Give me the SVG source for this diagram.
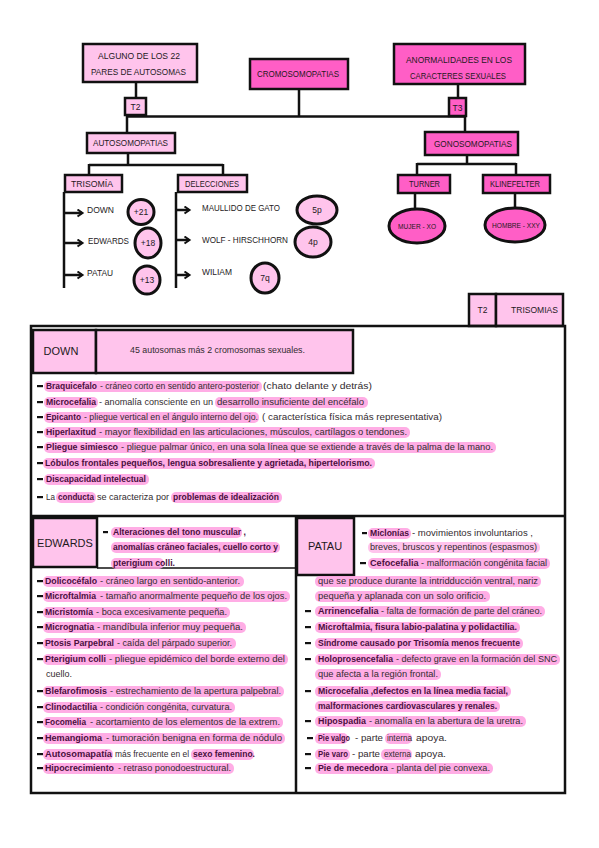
<svg xmlns="http://www.w3.org/2000/svg" width="599" height="848" viewBox="0 0 599 848">
<style>
text{font-family:"Liberation Sans",Arial,sans-serif;}
.lb{font-size:8.5px;fill:#1e1a1c;}
.lbc{font-size:8.5px;fill:#1e1a1c;text-anchor:middle;}
.n{font-size:9px;fill:#332c30;font-weight:normal;}
.b{font-size:9px;fill:#4a0f3e;font-weight:bold;}
.hd{font-size:11px;fill:#1e1a1c;text-anchor:middle;}
.lp{fill:#ffc4ec;stroke:#111;stroke-width:2.5;}
.hp{fill:#ff5ec6;stroke:#111;stroke-width:2.5;}
.ln{stroke:#111;stroke-width:2.5;fill:none;}
.bx{stroke:#111;stroke-width:2.5;fill:none;}
.hl{fill:#ff9fe1;opacity:0.85;}
.hl2{fill:#ffb8ea;opacity:0.85;}
.d{fill:#111;}
</style>
<defs>
<marker id="ar" markerWidth="9" markerHeight="9" refX="6" refY="4.5" orient="auto" markerUnits="userSpaceOnUse">
<path d="M1.5,1 L6.5,4.5 L1.5,8" fill="none" stroke="#111" stroke-width="2"/>
</marker>
</defs>

<g id="connectors">
<path class="ln" d="M136,82 V98"/>
<path class="ln" d="M458,84 V98"/>
<path class="ln" d="M127,116.5 H465"/>
<path class="ln" d="M299,89 V116"/>
<path class="ln" d="M127,116 V133"/>
<path class="ln" d="M465,116 V132"/>
<path class="ln" d="M128,153 V165 M89,165 H223 M89,164 V175 M223,164 V175"/>
<path class="ln" d="M64,192 V288"/>
<path class="ln" d="M64,213 H82" marker-end="url(#ar)"/>
<path class="ln" d="M64,243 H82" marker-end="url(#ar)"/>
<path class="ln" d="M64,275 H82" marker-end="url(#ar)"/>
<path class="ln" d="M176,192 V288"/>
<path class="ln" d="M176,210 H189" marker-end="url(#ar)"/>
<path class="ln" d="M176,240 H189" marker-end="url(#ar)"/>
<path class="ln" d="M176,275 H189" marker-end="url(#ar)"/>
<path class="ln" d="M467,155 V164 M417,164 H516 M417,163 V175 M516,163 V175"/>
<path class="ln" d="M415,193 V209"/>
<path class="ln" d="M515,193 V208"/>
</g>

<g id="n-alguno">
<rect class="lp" x="83" y="44" width="114" height="38"/>
<text class="lb" x="98" y="59" textLength="82" lengthAdjust="spacingAndGlyphs">ALGUNO DE LOS 22</text>
<text class="lb" x="91" y="75" textLength="95" lengthAdjust="spacingAndGlyphs">PARES DE AUTOSOMAS</text>
</g>
<g id="n-cromo">
<rect class="hp" x="250" y="59" width="98" height="30"/>
<text class="lb" x="257" y="77" textLength="82" lengthAdjust="spacingAndGlyphs">CROMOSOMOPATIAS</text>
</g>
<g id="n-anorm">
<rect class="hp" x="394" y="44" width="131" height="40"/>
<text class="lb" x="406" y="63" textLength="106" lengthAdjust="spacingAndGlyphs">ANORMALIDADES EN LOS</text>
<text class="lb" x="410" y="79" textLength="96" lengthAdjust="spacingAndGlyphs">CARACTERES SEXUALES</text>
</g>
<g id="n-t2">
<rect class="lp" x="125" y="98" width="21" height="17"/>
<text class="lbc" x="135.5" y="110">T2</text>
</g>
<g id="n-t3">
<rect class="hp" x="449" y="98" width="17" height="18"/>
<text class="lbc" x="457.5" y="110.5">T3</text>
</g>
<g id="n-auto">
<rect class="lp" x="87" y="133" width="88" height="20"/>
<text class="lb" x="93" y="146" textLength="75" lengthAdjust="spacingAndGlyphs">AUTOSOMOPATIAS</text>
</g>
<g id="n-gono">
<rect class="hp" x="425" y="132" width="93" height="23"/>
<text class="lb" x="434" y="146.5" textLength="78" lengthAdjust="spacingAndGlyphs">GONOSOMOPATIAS</text>
</g>
<g id="n-trisomia">
<rect class="lp" x="65" y="175" width="57" height="17"/>
<text class="lb" x="71" y="186.5" textLength="42" lengthAdjust="spacingAndGlyphs">TRISOMÍA</text>
</g>
<g id="n-delecciones">
<rect class="lp" x="178" y="175" width="69" height="17"/>
<text class="lb" x="185" y="186.5" textLength="54" lengthAdjust="spacingAndGlyphs">DELECCIONES</text>
</g>
<g id="n-down">
<text class="lb" x="87" y="213" textLength="27" lengthAdjust="spacingAndGlyphs">DOWN</text>
<ellipse class="lp" cx="141" cy="212" rx="13" ry="12.5" style="stroke-width:3"/>
<text class="lbc" x="141" y="215">+21</text>
</g>
<g id="n-edwards">
<text class="lb" x="88" y="244" textLength="41" lengthAdjust="spacingAndGlyphs">EDWARDS</text>
<ellipse class="lp" cx="148" cy="243" rx="13" ry="15" style="stroke-width:3"/>
<text class="lbc" x="148" y="246">+18</text>
</g>
<g id="n-patau">
<text class="lb" x="87" y="276" textLength="26" lengthAdjust="spacingAndGlyphs">PATAU</text>
<ellipse class="lp" cx="147" cy="280" rx="13" ry="14" style="stroke-width:3"/>
<text class="lbc" x="147" y="283">+13</text>
</g>
<g id="n-maullido">
<text class="lb" x="202" y="211" textLength="78" lengthAdjust="spacingAndGlyphs">MAULLIDO DE GATO</text>
<ellipse class="lp" cx="317" cy="210" rx="20" ry="14" style="stroke-width:3"/>
<text class="lbc" x="317" y="213">5p</text>
</g>
<g id="n-wolf">
<text class="lb" x="202" y="243" textLength="86" lengthAdjust="spacingAndGlyphs">WOLF - HIRSCHHORN</text>
<ellipse class="lp" cx="313" cy="242" rx="18" ry="15" style="stroke-width:3"/>
<text class="lbc" x="313" y="245">4p</text>
</g>
<g id="n-wiliam">
<text class="lb" x="202" y="275" textLength="30" lengthAdjust="spacingAndGlyphs">WILIAM</text>
<ellipse class="lp" cx="265" cy="278" rx="14" ry="15" style="stroke-width:3"/>
<text class="lbc" x="265" y="281">7q</text>
</g>
<g id="n-turner">
<rect class="hp" x="398" y="175" width="52" height="18"/>
<text class="lb" x="409" y="187" textLength="31" lengthAdjust="spacingAndGlyphs">TURNER</text>
</g>
<g id="n-kline">
<rect class="hp" x="483" y="175" width="67" height="18"/>
<text class="lb" x="490" y="187" textLength="50" lengthAdjust="spacingAndGlyphs">KLINEFELTER</text>
</g>
<g id="n-mujer">
<ellipse class="hp" cx="417" cy="226" rx="28" ry="17" style="stroke-width:3"/>
<text class="lb" x="398" y="229" style="font-size:7px" textLength="38" lengthAdjust="spacingAndGlyphs">MUJER - XO</text>
</g>
<g id="n-hombre">
<ellipse class="hp" cx="515" cy="225" rx="30" ry="17" style="stroke-width:3"/>
<text class="lb" x="492" y="228" style="font-size:7px" textLength="48" lengthAdjust="spacingAndGlyphs">HOMBRE - XXY</text>
</g>

<g id="n-trisomias-tab">
<rect class="lp" x="469" y="294" width="27" height="32"/>
<text class="lbc" x="482.5" y="313">T2</text>
<rect class="lp" x="496" y="294" width="67" height="32"/>
<text class="lb" x="511" y="313" textLength="47" lengthAdjust="spacingAndGlyphs">TRISOMIAS</text>
</g>

<g id="frame">
<rect class="bx" x="31" y="326" width="534" height="467"/>
<path class="ln" d="M31,516 H565 M296,516 V793"/>
<path class="ln" d="M97,568 H296" style="stroke-width:1.5"/>
</g>

<g id="n-down-sec">
<rect class="lp" x="33" y="330" width="63" height="43"/>
<rect class="lp" x="96" y="330" width="257" height="43"/>
<text class="hd" x="61" y="355">DOWN</text>
<text class="n" x="130" y="353" textLength="175" lengthAdjust="spacingAndGlyphs">45 autosomas más 2 cromosomas sexuales.</text>
<g id="down-hl">
<rect class="hl" x="44" y="381" width="218" height="11" rx="5"/>
<rect class="hl" x="44" y="397" width="54" height="11" rx="5"/>
<rect class="hl" x="215" y="397" width="153" height="11" rx="5"/>
<rect class="hl" x="44" y="412" width="215" height="11" rx="5"/>
<rect class="hl" x="44" y="427" width="366" height="11" rx="5"/>
<rect class="hl" x="44" y="442" width="452" height="11" rx="5"/>
<rect class="hl" x="43" y="458" width="332" height="11" rx="5"/>
<rect class="hl" x="44" y="474" width="105" height="11" rx="5"/>
<rect class="hl" x="56" y="492" width="40" height="11" rx="5"/>
<rect class="hl" x="171" y="492" width="111" height="11" rx="5"/>
</g>
<g id="down-dash">
<rect class="d" x="37" y="385" width="6" height="2.2"/>
<rect class="d" x="37" y="401" width="6" height="2.2"/>
<rect class="d" x="37" y="416" width="6" height="2.2"/>
<rect class="d" x="37" y="431" width="6" height="2.2"/>
<rect class="d" x="37" y="446" width="6" height="2.2"/>
<rect class="d" x="37" y="462" width="6" height="2.2"/>
<rect class="d" x="37" y="478" width="6" height="2.2"/>
<rect class="d" x="37" y="496" width="6" height="2.2"/>
</g>
<text class="b" x="46" y="389" textLength="51" lengthAdjust="spacingAndGlyphs">Braquicefalo</text>
<text class="n" x="100" y="389" textLength="159" lengthAdjust="spacingAndGlyphs">- cráneo corto en sentido antero-posterior</text>
<text class="n" x="263" y="389" textLength="109" lengthAdjust="spacingAndGlyphs">(chato delante y detrás)</text>
<text class="b" x="46" y="405" textLength="50" lengthAdjust="spacingAndGlyphs">Microcefalia</text>
<text class="n" x="99" y="405" textLength="114" lengthAdjust="spacingAndGlyphs">- anomalía consciente en un</text>
<text class="n" x="217" y="405" textLength="147" lengthAdjust="spacingAndGlyphs">desarrollo insuficiente del encéfalo</text>
<text class="b" x="46" y="420" textLength="35" lengthAdjust="spacingAndGlyphs">Epicanto</text>
<text class="n" x="84" y="420" textLength="174" lengthAdjust="spacingAndGlyphs">- pliegue vertical en el ángulo interno del ojo.</text>
<text class="n" x="262" y="420" textLength="180" lengthAdjust="spacingAndGlyphs">( característica física más representativa)</text>
<text class="b" x="46" y="435" textLength="50" lengthAdjust="spacingAndGlyphs">Hiperlaxitud</text>
<text class="n" x="99" y="435" textLength="308" lengthAdjust="spacingAndGlyphs">- mayor flexibilidad en las articulaciones, músculos, cartílagos o tendones.</text>
<text class="b" x="46" y="450" textLength="72" lengthAdjust="spacingAndGlyphs">Pliegue  simiesco</text>
<text class="n" x="121" y="450" textLength="372" lengthAdjust="spacingAndGlyphs">- pliegue palmar único, en una sola línea que se extiende a través de la palma de la mano.</text>
<text class="b" x="45" y="466" textLength="327" lengthAdjust="spacingAndGlyphs">Lóbulos frontales pequeños, lengua sobresaliente y agrietada, hipertelorismo.</text>
<text class="b" x="46" y="482" textLength="100" lengthAdjust="spacingAndGlyphs">Discapacidad intelectual</text>
<text class="n" x="46" y="500" textLength="9" lengthAdjust="spacingAndGlyphs">La</text>
<text class="b" x="58" y="500" textLength="36" lengthAdjust="spacingAndGlyphs">conducta</text>
<text class="n" x="97" y="500" textLength="72" lengthAdjust="spacingAndGlyphs">se caracteriza por</text>
<text class="b" x="173" y="500" textLength="106" lengthAdjust="spacingAndGlyphs">problemas de idealización</text>
</g>

<g id="n-edwards-sec">
<rect class="lp" x="33" y="518" width="64" height="49"/>
<text class="hd" x="65" y="547">EDWARDS</text>
<g id="edw-hl">
<rect class="hl" x="111" y="527" width="131" height="11" rx="5"/>
<rect class="hl" x="111" y="542" width="169" height="11" rx="5"/>
<rect class="hl" x="111" y="558" width="53" height="11" rx="5"/>
<rect class="hl" x="43" y="576" width="201" height="11" rx="5"/>
<rect class="hl" x="43" y="591" width="247" height="11" rx="5"/>
<rect class="hl" x="43" y="607" width="187" height="11" rx="5"/>
<rect class="hl" x="43" y="622" width="203" height="11" rx="5"/>
<rect class="hl" x="43" y="638" width="193" height="11" rx="5"/>
<rect class="hl" x="43" y="654" width="245" height="11" rx="5"/>
<rect class="hl" x="43" y="686" width="241" height="11" rx="5"/>
<rect class="hl" x="43" y="702" width="192" height="11" rx="5"/>
<rect class="hl" x="43" y="717" width="240" height="11" rx="5"/>
<rect class="hl" x="43" y="733" width="242" height="11" rx="5"/>
<rect class="hl" x="43" y="749" width="70" height="11" rx="5"/>
<rect class="hl" x="191" y="749" width="63" height="11" rx="5"/>
<rect class="hl" x="43" y="763" width="191" height="11" rx="5"/>
</g>
<g id="edw-dash">
<rect class="d" x="103" y="531" width="5" height="2.2"/>
<rect class="d" x="37" y="580" width="6" height="2.2"/>
<rect class="d" x="37" y="595" width="6" height="2.2"/>
<rect class="d" x="37" y="611" width="6" height="2.2"/>
<rect class="d" x="37" y="626" width="6" height="2.2"/>
<rect class="d" x="37" y="642" width="6" height="2.2"/>
<rect class="d" x="37" y="658" width="6" height="2.2"/>
<rect class="d" x="37" y="690" width="6" height="2.2"/>
<rect class="d" x="37" y="706" width="6" height="2.2"/>
<rect class="d" x="37" y="721" width="6" height="2.2"/>
<rect class="d" x="37" y="737" width="6" height="2.2"/>
<rect class="d" x="37" y="753" width="6" height="2.2"/>
<rect class="d" x="37" y="767" width="6" height="2.2"/>
</g>
<text class="b" x="113" y="535" textLength="133" lengthAdjust="spacingAndGlyphs">Alteraciones del tono muscular ,</text>
<text class="b" x="113" y="550" textLength="165" lengthAdjust="spacingAndGlyphs">anomalías cráneo faciales, cuello corto y</text>
<text class="b" x="113" y="566" textLength="62" lengthAdjust="spacingAndGlyphs">pterigium colli.</text>
<text class="b" x="45" y="584" textLength="52" lengthAdjust="spacingAndGlyphs">Dolicocéfalo</text>
<text class="n" x="100" y="584" textLength="140" lengthAdjust="spacingAndGlyphs">- cráneo largo  en sentido-anterior.</text>
<text class="b" x="45" y="599" textLength="51" lengthAdjust="spacingAndGlyphs">Microftalmia</text>
<text class="n" x="100" y="599" textLength="187" lengthAdjust="spacingAndGlyphs">- tamaño anormalmente pequeño de los ojos.</text>
<text class="b" x="45" y="615" textLength="48" lengthAdjust="spacingAndGlyphs">Micristomía</text>
<text class="n" x="96" y="615" textLength="131" lengthAdjust="spacingAndGlyphs">- boca excesivamente pequeña.</text>
<text class="b" x="45" y="630" textLength="49" lengthAdjust="spacingAndGlyphs">Micrognatia</text>
<text class="n" x="97" y="630" textLength="146" lengthAdjust="spacingAndGlyphs">- mandíbula inferior muy pequeña.</text>
<text class="b" x="45" y="646" textLength="69" lengthAdjust="spacingAndGlyphs">Ptosis Parpebral</text>
<text class="n" x="117" y="646" textLength="115" lengthAdjust="spacingAndGlyphs">- caída del párpado superior.</text>
<text class="b" x="45" y="662" textLength="61" lengthAdjust="spacingAndGlyphs">Pterigium colli</text>
<text class="n" x="109" y="662" textLength="176" lengthAdjust="spacingAndGlyphs">- pliegue epidémico del borde externo del</text>
<text class="n" x="46" y="677" textLength="26" lengthAdjust="spacingAndGlyphs">cuello.</text>
<text class="b" x="45" y="694" textLength="62" lengthAdjust="spacingAndGlyphs">Blefarofimosis</text>
<text class="n" x="110" y="694" textLength="171" lengthAdjust="spacingAndGlyphs">- estrechamiento de la apertura palpebral.</text>
<text class="b" x="45" y="710" textLength="52" lengthAdjust="spacingAndGlyphs">Clinodactilia</text>
<text class="n" x="100" y="710" textLength="132" lengthAdjust="spacingAndGlyphs">- condición congénita, curvatura.</text>
<text class="b" x="45" y="725" textLength="41" lengthAdjust="spacingAndGlyphs">Focomelia</text>
<text class="n" x="90" y="725" textLength="190" lengthAdjust="spacingAndGlyphs">- acortamiento de los elementos de la extrem.</text>
<text class="b" x="45" y="741" textLength="57" lengthAdjust="spacingAndGlyphs">Hemangioma</text>
<text class="n" x="106" y="741" textLength="176" lengthAdjust="spacingAndGlyphs">- tumoración benigna  en forma de nódulo</text>
<text class="b" x="45" y="757" textLength="67" lengthAdjust="spacingAndGlyphs">Autosomapatía</text>
<text class="n" x="115" y="757" textLength="74" lengthAdjust="spacingAndGlyphs">más frecuente en el</text>
<text class="b" x="193" y="757" textLength="62" lengthAdjust="spacingAndGlyphs">sexo femenino.</text>
<text class="b" x="45" y="771" textLength="69" lengthAdjust="spacingAndGlyphs">Hipocrecimiento</text>
<text class="n" x="118" y="771" textLength="113" lengthAdjust="spacingAndGlyphs">- retraso ponodoestructural.</text>
</g>

<g id="n-patau-sec">
<rect class="lp" x="297" y="518" width="57" height="57"/>
<text class="hd" x="325" y="550">PATAU</text>
<g id="pat-hl">
<rect class="hl" x="368" y="528" width="43" height="11" rx="5"/>
<rect class="hl2" x="368" y="542" width="172" height="11" rx="5"/>
<rect class="hl" x="368" y="558" width="182" height="11" rx="5"/>
<rect class="hl" x="315" y="576" width="226" height="11" rx="5"/>
<rect class="hl" x="315" y="591" width="175" height="11" rx="5"/>
<rect class="hl" x="315" y="606" width="230" height="11" rx="5"/>
<rect class="hl" x="315" y="622" width="205" height="11" rx="5"/>
<rect class="hl" x="315" y="638" width="208" height="11" rx="5"/>
<rect class="hl" x="315" y="654" width="245" height="11" rx="5"/>
<rect class="hl" x="315" y="669" width="126" height="11" rx="5"/>
<rect class="hl" x="315" y="686" width="196" height="11" rx="5"/>
<rect class="hl" x="315" y="701" width="185" height="11" rx="5"/>
<rect class="hl" x="315" y="716" width="211" height="11" rx="5"/>
<rect class="hl" x="315" y="733" width="33" height="11" rx="5"/>
<rect class="hl" x="385" y="733" width="27" height="11" rx="5"/>
<rect class="hl" x="315" y="749" width="35" height="11" rx="5"/>
<rect class="hl" x="381" y="749" width="31" height="11" rx="5"/>
<rect class="hl" x="315" y="763" width="178" height="11" rx="5"/>
</g>
<g id="pat-dash">
<rect class="d" x="362" y="532" width="5" height="2.2"/>
<rect class="d" x="360" y="562" width="6" height="2.2"/>
<rect class="d" x="305" y="610" width="6" height="2.2"/>
<rect class="d" x="305" y="626" width="6" height="2.2"/>
<rect class="d" x="305" y="642" width="6" height="2.2"/>
<rect class="d" x="305" y="658" width="6" height="2.2"/>
<rect class="d" x="305" y="690" width="6" height="2.2"/>
<rect class="d" x="305" y="720" width="6" height="2.2"/>
<rect class="d" x="307" y="737" width="6" height="2.2"/>
<rect class="d" x="305" y="753" width="6" height="2.2"/>
<rect class="d" x="305" y="767" width="6" height="2.2"/>
</g>
<text class="b" x="370" y="536" textLength="39" lengthAdjust="spacingAndGlyphs">Miclonías</text>
<text class="n" x="412" y="536" textLength="121" lengthAdjust="spacingAndGlyphs">- movimientos involuntarios ,</text>
<text class="n" x="370" y="550" textLength="167" lengthAdjust="spacingAndGlyphs">breves, bruscos y repentinos (espasmos)</text>
<text class="b" x="370" y="566" textLength="177" lengthAdjust="spacingAndGlyphs">Cefocefalia<tspan class="n"> - malformación congénita facial</tspan></text>
<text class="n" x="318" y="584" textLength="220" lengthAdjust="spacingAndGlyphs">que se produce durante la intridducción ventral, nariz</text>
<text class="n" x="318" y="599" textLength="168" lengthAdjust="spacingAndGlyphs">pequeña y aplanada con un solo orificio.</text>
<text class="b" x="318" y="614" textLength="224" lengthAdjust="spacingAndGlyphs">Arrinencefalia<tspan class="n"> - falta de formación de parte del cráneo.</tspan></text>
<text class="b" x="318" y="630" textLength="199" lengthAdjust="spacingAndGlyphs">Microftalmia, fisura labio-palatina y polidactilia.</text>
<text class="b" x="318" y="646" textLength="202" lengthAdjust="spacingAndGlyphs">Síndrome causado por Trisomía menos frecuente</text>
<text class="b" x="318" y="662" textLength="75" lengthAdjust="spacingAndGlyphs">Holoprosencefalia</text>
<text class="n" x="396" y="662" textLength="161" lengthAdjust="spacingAndGlyphs">- defecto grave en la formación del SNC</text>
<text class="n" x="318" y="677" textLength="120" lengthAdjust="spacingAndGlyphs">que afecta a la región frontal.</text>
<text class="b" x="318" y="694" textLength="190" lengthAdjust="spacingAndGlyphs">Microcefalia ,defectos en la línea media facial,</text>
<text class="b" x="318" y="709" textLength="179" lengthAdjust="spacingAndGlyphs">malformaciones cardiovasculares y renales.</text>
<text class="b" x="318" y="724" textLength="48" lengthAdjust="spacingAndGlyphs">Hipospadia</text>
<text class="n" x="369" y="724" textLength="154" lengthAdjust="spacingAndGlyphs">- anomalía en la abertura de la uretra.</text>
<text class="b" x="318" y="741" textLength="32" lengthAdjust="spacingAndGlyphs">Pie valgo</text>
<text class="n" x="355" y="741" textLength="28" lengthAdjust="spacingAndGlyphs">- parte</text>
<text class="n" x="387" y="741" textLength="25" lengthAdjust="spacingAndGlyphs">interna</text>
<text class="n" x="416" y="741" textLength="31" lengthAdjust="spacingAndGlyphs">apoya.</text>
<text class="b" x="318" y="757" textLength="30" lengthAdjust="spacingAndGlyphs">Pie varo</text>
<text class="n" x="352" y="757" textLength="28" lengthAdjust="spacingAndGlyphs">- parte</text>
<text class="n" x="384" y="757" textLength="27" lengthAdjust="spacingAndGlyphs">externa</text>
<text class="n" x="415" y="757" textLength="31" lengthAdjust="spacingAndGlyphs">apoya.</text>
<text class="b" x="318" y="771" textLength="70" lengthAdjust="spacingAndGlyphs">Pie de mecedora</text>
<text class="n" x="391" y="771" textLength="99" lengthAdjust="spacingAndGlyphs">- planta del pie convexa.</text>
</g>
</svg>
